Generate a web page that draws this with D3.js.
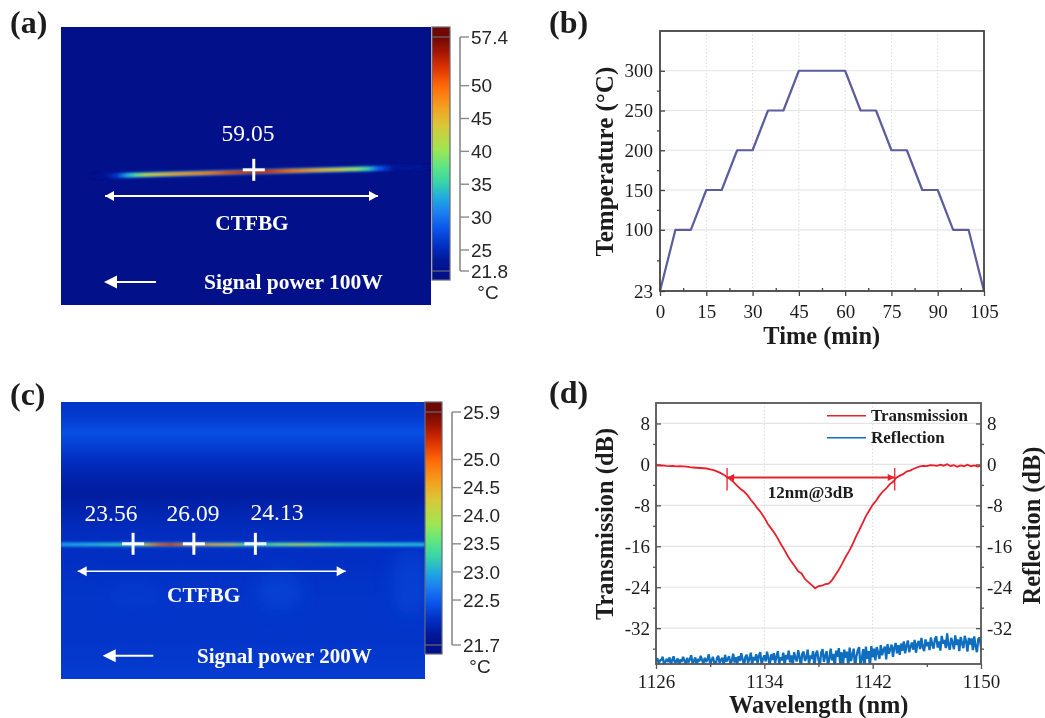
<!DOCTYPE html>
<html>
<head>
<meta charset="utf-8">
<title>CTFBG thermal and spectral results</title>
<script src="https://cdn.jsdelivr.net/npm/d3@7/dist/d3.min.js"></script>
<style>
  html, body { margin: 0; padding: 0; background: #fff; }
  svg { display: block; filter: blur(0.35px); }
  text { font-family: "Liberation Serif", serif; fill: #1c1c1c; }
  .bold { font-weight: bold; }
  .sans { font-family: "Liberation Sans", sans-serif; fill: #262626; }
  .onimg { fill: #fff; }
  .axis path, .axis line { fill: none; }
</style>
</head>
<body>
<div id="chart"></div>
<script>
// ---- colour map shared by both thermal pictures (fraction of the bar -> colour)
var jetFractions = [0, 0.05, 0.11, 0.18, 0.25, 0.31, 0.38, 0.45, 0.52, 0.62, 0.70, 0.79, 0.87, 0.94, 1];
var jetColors = ["#02108a", "#001a9c", "#0230c4", "#0a55ea", "#1a80f0", "#20a8e0", "#38d5a8", "#62e680", "#a0e650", "#d8c838", "#f4a020", "#ff6a08", "#dc3200", "#a01400", "#6e0800"];

// ---- panel a, thermal picture at 100 W
var barTicksA = [21.8, 25, 30, 35, 40, 45, 50, 57.4];
var barLabelsA = ["21.8", "25", "30", "35", "40", "45", "50", "57.4"];
var fibreAPos = [8, 12, 15, 18, 20, 23, 30, 40, 46, 52, 56, 62, 70, 76, 80, 83, 86, 90, 100];
var fibreATemp = [21.8, 22.6, 26, 33, 37, 42, 46, 49, 52, 53.5, 53, 50, 46, 43, 40, 35, 28, 23, 21.9];
var readingA = "59.05";
var crossAPos = [52.1];

// ---- panel b, heating schedule
var timeMin = [0, 5, 10, 15, 20, 25, 30, 35, 40, 45, 60, 65, 70, 75, 80, 85, 90, 95, 100, 105];
var tempC = [23, 100, 100, 150, 150, 200, 200, 250, 250, 300, 300, 250, 250, 200, 200, 150, 150, 100, 100, 23];
var timeTicks = [0, 15, 30, 45, 60, 75, 90, 105];
var timeMinor = [7.5, 22.5, 37.5, 52.5, 67.5, 82.5, 97.5];
var tempTicks = [23, 100, 150, 200, 250, 300];
var tempMinor = [61.5, 125, 175, 225, 275];

// ---- panel c, thermal picture at 200 W
var barTicksC = [21.7, 22.5, 23, 23.5, 24, 24.5, 25, 25.9];
var barLabelsC = ["21.7", "22.5", "23.0", "23.5", "24.0", "24.5", "25.0", "25.9"];
var rowPos = [0, 5, 11, 16, 21, 28, 33, 39, 46, 52, 60, 71, 86, 100];
var rowTemp = [22.2, 22.24, 22.4, 22.27, 22.14, 22.0, 21.93, 22.02, 22.12, 22.14, 22.16, 22.2, 22.2, 22.26];
var spotX = [60, 96, 20];
var spotY = [68, 65, 69];
var spotRx = [6, 5, 7];
var spotRy = [7, 12, 5];
var spotOpacity = [0.34, 0.34, 0.14];
var fibreCPos = [0, 10, 19, 23, 27, 30, 35, 41, 47, 50, 55, 60, 66, 70, 78, 100];
var fibreCTemp = [22.9, 23.1, 23.3, 24.2, 25.1, 25.3, 24.8, 24.5, 24.3, 23.6, 23.4, 23.7, 24.0, 23.7, 23.3, 23.1];
var readingsC = ["23.56", "26.09", "24.13"];
var crossCPos = [19.8, 36.5, 53.4];

// ---- panel d, spectra
var waveTicks = [1126, 1134, 1142, 1150];
var waveMinor = [1130, 1138, 1146];
var dbTicks = [8, 0, -8, -16, -24, -32];
var dbLabels = ["8", "0", "-8", "-16", "-24", "-32"];
var dbMinor = [4, -4, -12, -20, -28, -36];
// sampled every 0.25 nm from 1126 nm
var transmission = [
  -0.2, -0.25, -0.2, -0.3, -0.35, -0.3, -0.4, -0.35, -0.4, -0.45, -0.55, -0.6,
  -0.65, -0.7, -0.75, -0.8, -0.95, -1.1, -1.35, -1.65, -2.0, -2.5, -2.9, -3.5,
  -4.2, -4.8, -5.3, -6.0, -6.9, -7.7, -8.6, -9.4, -10.4, -11.6, -12.5, -13.4,
  -14.5, -15.7, -16.8, -18.0, -19.0, -19.9, -20.9, -21.3, -22.4, -23.0, -23.6, -24.2,
  -23.8, -23.7, -23.4, -23.3, -22.6, -21.6, -20.6, -19.4, -18.1, -17.0, -15.7, -14.2,
  -12.9, -11.5, -10.1, -9.0, -7.9, -7.1, -6.1, -5.3, -4.7, -3.9, -3.4, -2.6,
  -2.2, -1.9, -1.4, -1.2, -0.9, -0.6, -0.4, -0.3, -0.35, -0.15, -0.2, -0.3,
  -0.05, -0.25, 0.05, -0.3, -0.15, -0.45, -0.2, -0.35, -0.05, -0.35, -0.2, -0.4, -0.3
];
// sampled every 0.1 nm from 1126 nm
var reflection = [
  -38.4, -37.9, -38.9, -38.3, -38.2, -37.6, -39.3, -38.5, -38.0, -38.6, -37.7, -39.1, -38.2, -37.5, -38.8, -38.5, -37.9, -39.4, -38.1, -38.6,
  -37.6, -38.3, -39.2, -37.8, -38.7, -38.1, -37.3, -38.9, -38.4, -37.7, -39.5, -38.0, -38.5, -37.4, -38.2, -39.0, -37.8, -38.6, -38.1, -37.1,
  -39.1, -38.3, -37.6, -38.7, -39.3, -37.9, -37.4, -38.8, -38.2, -37.8, -39.4, -37.2, -38.5, -38.0, -37.5, -39.2, -38.3, -37.0, -38.7, -37.7,
  -39.0, -37.5, -38.4, -36.9, -38.1, -39.4, -37.6, -37.2, -38.8, -38.0, -36.8, -39.2, -37.6, -38.3, -37.1, -38.9, -37.4, -36.7, -39.1, -38.0,
  -37.3, -38.5, -36.6, -37.9, -39.3, -37.1, -38.2, -36.9, -38.8, -37.5, -36.5, -39.0, -37.7, -38.3, -36.8, -39.4, -37.2, -38.1, -36.4, -38.7,
  -37.3, -39.2, -36.7, -37.9, -38.5, -36.3, -37.6, -39.5, -37.0, -36.6, -38.4, -37.8, -36.2, -39.1, -37.3, -38.0, -36.5, -39.6, -37.1, -36.4,
  -38.2, -39.3, -36.8, -36.1, -38.6, -37.4, -36.5, -39.5, -37.9, -36.0, -38.3, -37.0, -39.7, -36.4, -37.6, -35.9, -38.9, -36.7, -39.8, -36.2,
  -37.8, -36.6, -39.6, -35.8, -38.4, -37.2, -36.0, -39.9, -37.5, -36.3, -35.7, -39.5, -37.9, -36.1, -39.8, -35.6, -38.0, -36.5, -39.7, -35.5,
  -37.7, -36.0, -38.3, -35.7, -36.8, -38.0, -35.3, -37.3, -36.2, -35.6, -38.1, -35.1, -37.0, -36.1, -35.2, -37.6, -35.8, -34.9, -36.9, -35.3,
  -37.2, -35.0, -36.4, -34.6, -36.9, -35.4, -34.4, -36.7, -35.6, -34.8, -36.2, -34.3, -36.8, -35.1, -34.5, -36.1, -33.9, -35.7, -36.5, -34.2,
  -35.5, -34.7, -36.3, -33.8, -35.2, -36.0, -34.1, -33.6, -35.8, -34.6, -36.4, -33.5, -35.0, -34.3, -35.9, -33.0, -35.4, -36.2, -33.9, -34.8,
  -36.1, -33.4, -35.3, -34.2, -36.5, -33.7, -35.0, -35.9, -33.5, -34.6, -36.6, -33.9, -35.2, -34.0, -36.3, -33.6, -35.6, -36.7, -34.1, -33.8,
  -35.7, -36.8, -34.2, -35.0, -33.9, -36.4, -34.7, -37.1, -34.0, -35.5, -36.2, -34.3, -37.4, -34.6, -35.2, -36.6, -34.1, -37.8, -34.5, -35.6, -36.4
];
var bandwidthEdges = [1131.25, 1143.63];
var bandwidthLevel = -2.55;
var bandwidthSpan = [-0.7, -5.1];

var width = 1045, height = 718;

var svg = d3.select("#chart").append("svg")
    .attr("width", width)
    .attr("height", height);
var defs = svg.append("defs");

var blurs = [0.9, 1.6, 9];
blurs.forEach(function(b, i) {
    defs.append("filter")
        .attr("id", "blur" + i)
        .attr("filterUnits", "userSpaceOnUse")
        .attr("x", 0).attr("y", 0)
        .attr("width", width).attr("height", height)
        .append("feGaussianBlur")
        .attr("stdDeviation", b);
});

var jet = d3.scaleLinear().domain(jetFractions).range(jetColors).clamp(true);

// linear gradient between two picture points, coloured from a temperature profile
function fibreGradient(id, x1, y1, x2, y2, offsets, temps, toColor) {
    defs.append("linearGradient")
        .attr("id", id)
        .attr("gradientUnits", "userSpaceOnUse")
        .attr("x1", x1).attr("y1", y1)
        .attr("x2", x2).attr("y2", y2)
        .selectAll("stop")
        .data(temps)
        .enter().append("stop")
        .attr("offset", function(d, i) { return offsets[i]; })
        .attr("stop-color", function(d) { return toColor(d); });
}

// colour bar with its own axis on the right
function colorBar(bar, ticks, labels, tempScale, unitX, unitY) {
    var barId = "bar" + bar.x;
    defs.append("linearGradient")
        .attr("id", barId)
        .attr("x1", 0).attr("y1", 1).attr("x2", 0).attr("y2", 0)
        .selectAll("stop")
        .data(jetFractions)
        .enter().append("stop")
        .attr("offset", function(d) { return d; })
        .attr("stop-color", function(d, i) { return jetColors[i]; });

    svg.append("rect")
        .attr("x", bar.x).attr("y", bar.top)
        .attr("width", bar.w).attr("height", bar.bottom - bar.top)
        .attr("fill", jetColors[jetColors.length - 1]);
    svg.append("rect")
        .attr("x", bar.x).attr("y", bar.lo)
        .attr("width", bar.w).attr("height", bar.bottom - bar.lo)
        .attr("fill", jetColors[0]);
    svg.append("rect")
        .attr("x", bar.x).attr("y", bar.hi)
        .attr("width", bar.w).attr("height", bar.lo - bar.hi)
        .attr("fill", "url(#" + barId + ")");
    svg.append("rect")
        .attr("x", bar.x).attr("y", bar.top)
        .attr("width", bar.w).attr("height", bar.bottom - bar.top)
        .attr("fill", "none").attr("stroke", "#6a6a78").attr("stroke-width", 1.2);
    [bar.hi, bar.lo].forEach(function(y) {
        svg.append("line")
            .attr("x1", bar.x).attr("x2", bar.x + bar.w)
            .attr("y1", y).attr("y2", y)
            .attr("stroke", "#6a6a78").attr("stroke-width", 1.2);
    });

    var g = svg.append("g").attr("transform", "translate(" + (bar.axisX + 9) + ",0)");
    g.call(d3.axisRight(tempScale).tickValues(ticks).tickSize(0).tickPadding(2)
        .tickFormat(function(d, i) { return labels[i]; }));
    g.select(".domain").remove();
    g.selectAll("text").attr("class", "sans").attr("font-size", 19).attr("font-family", null);
    svg.append("line")
        .attr("x1", bar.axisX).attr("x2", bar.axisX)
        .attr("y1", tempScale(ticks[0])).attr("y2", tempScale(ticks[ticks.length - 1]))
        .attr("stroke", "#8a8a8a").attr("stroke-width", 1.6);
    svg.selectAll(null)
        .data(ticks)
        .enter().append("line")
        .attr("x1", bar.axisX).attr("x2", bar.axisX + 9)
        .attr("y1", function(d) { return tempScale(d); })
        .attr("y2", function(d) { return tempScale(d); })
        .attr("stroke", "#8a8a8a").attr("stroke-width", 1.4);
    svg.append("text").attr("class", "sans")
        .attr("x", unitX).attr("y", unitY)
        .attr("text-anchor", "middle").attr("font-size", 19)
        .text("\u00b0C");
}

// white annotations on the thermal pictures
function cross(x, y) {
    var g = svg.append("g").attr("stroke", "#fff").attr("stroke-width", 3);
    g.append("line").attr("x1", x - 11).attr("x2", x + 11).attr("y1", y).attr("y2", y);
    g.append("line").attr("x1", x).attr("x2", x).attr("y1", y - 11).attr("y2", y + 11);
}
function arrowHead(tipX, y, dir, len, half) {
    svg.append("path")
        .attr("d", d3.line()([[tipX, y], [tipX + dir * len, y - half], [tipX + dir * len, y + half]]) + "Z")
        .attr("fill", "#fff");
}
function doubleArrow(x1, x2, y, sw) {
    svg.append("line").attr("x1", x1).attr("x2", x2).attr("y1", y).attr("y2", y)
        .attr("stroke", "#fff").attr("stroke-width", sw);
    arrowHead(x1, y, 1, 9, 5);
    arrowHead(x2, y, -1, 9, 5);
}
function powerArrow(tip, tail, y) {
    svg.append("line").attr("x1", tip + 8).attr("x2", tail).attr("y1", y).attr("y2", y)
        .attr("stroke", "#fff").attr("stroke-width", 2);
    arrowHead(tip, y, 1, 13, 6.5);
}
function imgText(t, x, y, size, bold, anchor) {
    svg.append("text")
        .attr("class", "onimg" + (bold ? " bold" : ""))
        .attr("x", x).attr("y", y)
        .attr("font-size", size)
        .attr("text-anchor", anchor || "middle")
        .text(t);
}

function panelLabel(t, x, y) {
    svg.append("text").attr("class", "bold")
        .attr("x", x).attr("y", y)
        .attr("font-size", 32).attr("fill", "#111")
        .text(t);
}
panelLabel("(a)", 10, 33);
panelLabel("(b)", 549, 33);
panelLabel("(c)", 10, 405);
panelLabel("(d)", 549, 403);

/* ---------- panel a ---------- */
var aX = d3.scaleLinear().domain([0, 100]).range([61, 431]);
var aY = d3.scaleLinear().domain([0, 100]).range([27, 305]);
var tempA = d3.scaleLinear().domain([21.8, 57.4]).range([271, 37]);
var colorA = function(t) { return jet((t - 21.8) / (57.4 - 21.8)); };

defs.append("clipPath").attr("id", "clipA").append("rect")
    .attr("x", aX(0)).attr("y", aY(0))
    .attr("width", aX(100) - aX(0)).attr("height", aY(100) - aY(0));

svg.append("rect")
    .attr("x", aX(0)).attr("y", aY(0))
    .attr("width", aX(100) - aX(0)).attr("height", aY(100) - aY(0))
    .attr("fill", jetColors[0]);

var fibreAx1 = aX(fibreAPos[0]), fibreAx2 = aX(100);
var fibreSlope = -7 / 260;
var fibreAy = function(x) { return 172 + (x - 247) * fibreSlope; };
var offsetsA = fibreAPos.map(function(p) { return (aX(p) - fibreAx1) / (fibreAx2 - fibreAx1); });
fibreGradient("fibreA", fibreAx1, fibreAy(fibreAx1), fibreAx2, fibreAy(fibreAx2), offsetsA, fibreATemp, colorA);
// halo is cooler than the core
fibreGradient("haloA", fibreAx1, fibreAy(fibreAx1), fibreAx2, fibreAy(fibreAx2), offsetsA,
    fibreATemp.map(function(t) { return Math.min(t, 31); }), colorA);

var gA = svg.append("g").attr("clip-path", "url(#clipA)");
gA.append("line")
    .attr("x1", fibreAx1).attr("y1", fibreAy(fibreAx1))
    .attr("x2", fibreAx2).attr("y2", fibreAy(fibreAx2))
    .attr("stroke", "url(#haloA)").attr("stroke-width", 4.5).attr("filter", "url(#blur1)");
gA.append("line")
    .attr("x1", fibreAx1).attr("y1", fibreAy(fibreAx1))
    .attr("x2", fibreAx2).attr("y2", fibreAy(fibreAx2))
    .attr("stroke", "url(#fibreA)").attr("stroke-width", 3.4).attr("filter", "url(#blur0)");

cross(aX(crossAPos[0]), fibreAy(aX(crossAPos[0])) - 2);
imgText(readingA, 248, 141, 23.5, false);
doubleArrow(105, 378, 196, 2);
imgText("CTFBG", 252, 230, 21.3, true);
powerArrow(104, 156, 282);
imgText("Signal power 100W", 204, 289, 21.5, true, "start");

colorBar({x: 432, w: 18, top: 27, bottom: 280, hi: 37, lo: 271, axisX: 460},
    barTicksA, barLabelsA, tempA, 488, 299);

/* ---------- panel c ---------- */
var cX = d3.scaleLinear().domain([0, 100]).range([61, 425]);
var cY = d3.scaleLinear().domain([0, 100]).range([402, 679]);
var tempC_ = d3.scaleLinear().domain([21.7, 25, 25.9]).range([645, 459.5, 412]);
var colorC = function(t) { return jet((t - 21.7) / (25.9 - 21.7)); };

defs.append("clipPath").attr("id", "clipC").append("rect")
    .attr("x", cX(0)).attr("y", cY(0))
    .attr("width", cX(100) - cX(0)).attr("height", cY(100) - cY(0));

fibreGradient("rowsC", 0, cY(0), 0, cY(100), rowPos.map(function(p) { return p / 100; }), rowTemp, colorC);
svg.append("rect")
    .attr("x", cX(0)).attr("y", cY(0))
    .attr("width", cX(100) - cX(0)).attr("height", cY(100) - cY(0))
    .attr("fill", "url(#rowsC)");

var gC = svg.append("g").attr("clip-path", "url(#clipC)");
gC.selectAll("ellipse")
    .data(spotX)
    .enter().append("ellipse")
    .attr("cx", function(d) { return cX(d); })
    .attr("cy", function(d, i) { return cY(spotY[i]); })
    .attr("rx", function(d, i) { return cX(spotRx[i]) - cX(0); })
    .attr("ry", function(d, i) { return cY(spotRy[i]) - cY(0); })
    .attr("fill", colorC(22.5))
    .attr("opacity", function(d, i) { return spotOpacity[i]; })
    .attr("filter", "url(#blur2)");

var fibreCy = 544.5;
fibreGradient("fibreC", cX(0), fibreCy, cX(100), fibreCy, fibreCPos.map(function(p) { return p / 100; }), fibreCTemp, colorC);
gC.append("line")
    .attr("x1", cX(0)).attr("x2", cX(100)).attr("y1", fibreCy).attr("y2", fibreCy)
    .attr("stroke", colorC(22.7)).attr("stroke-width", 4).attr("filter", "url(#blur1)");
gC.append("line")
    .attr("x1", cX(0)).attr("x2", cX(100)).attr("y1", fibreCy).attr("y2", fibreCy)
    .attr("stroke", "url(#fibreC)").attr("stroke-width", 2.6).attr("filter", "url(#blur0)");

crossCPos.forEach(function(p) { cross(cX(p), fibreCy - 0.7); });
imgText(readingsC[0], 111, 521, 23.5, false);
imgText(readingsC[1], 193, 521, 23.5, false);
imgText(readingsC[2], 277, 520, 23.5, false);
doubleArrow(77.7, 345.7, 571.3, 1.6);
imgText("CTFBG", 203.7, 601.7, 21.3, true);
powerArrow(102.7, 153.3, 655.7);
imgText("Signal power 200W", 197, 662.7, 21, true, "start");

colorBar({x: 425, w: 17, top: 402, bottom: 654, hi: 412, lo: 645, axisX: 452},
    barTicksC, barLabelsC, tempC_, 480, 672.7);

/* ---------- shared helpers for the two line plots ---------- */
function styleAxis(g, color, size) {
    g.attr("class", "axis");
    g.select(".domain").remove();
    g.selectAll("line").attr("stroke", color).attr("stroke-width", 1.3);
    g.selectAll("text").attr("font-size", size).attr("font-family", null).attr("fill", "#1c1c1c");
}
function grid(g, box, xVals, yVals, x, y) {
    g.selectAll(null).data(yVals).enter().append("line")
        .attr("x1", box.left).attr("x2", box.right)
        .attr("y1", function(d) { return y(d); }).attr("y2", function(d) { return y(d); })
        .attr("stroke", "#e4e4e4").attr("stroke-width", 1.2);
    g.selectAll(null).data(xVals).enter().append("line")
        .attr("x1", function(d) { return x(d); }).attr("x2", function(d) { return x(d); })
        .attr("y1", box.top).attr("y2", box.bottom)
        .attr("stroke", "#dcdcdc").attr("stroke-width", 1)
        .attr("stroke-dasharray", "1.5,2");
}
function axisTitle(t, x, y, size, rotate) {
    svg.append("text").attr("class", "bold")
        .attr("transform", "translate(" + x + "," + y + ")" + (rotate ? " rotate(-90)" : ""))
        .attr("text-anchor", "middle")
        .attr("font-size", size)
        .attr("fill", "#111")
        .text(t);
}
function frame(box, color) {
    svg.append("rect")
        .attr("x", box.left).attr("y", box.top)
        .attr("width", box.right - box.left).attr("height", box.bottom - box.top)
        .attr("fill", "none").attr("stroke", color).attr("stroke-width", 1.8);
}

/* ---------- panel b ---------- */
var boxB = {left: 660, right: 984, top: 31, bottom: 291};
var xB = d3.scaleLinear().domain([0, 105]).range([boxB.left, boxB.right]);
var yB = d3.scaleLinear().domain([23, 350]).range([boxB.bottom, boxB.top]);

grid(svg.append("g"), boxB, timeTicks.slice(1, -1), tempTicks.slice(1), xB, yB);

var axB = svg.append("g").attr("transform", "translate(0," + boxB.bottom + ")")
    .call(d3.axisBottom(xB).tickValues(timeTicks).tickSize(5).tickPadding(9).tickFormat(d3.format("d")));
styleAxis(axB, "#444", 19);
var axBm = svg.append("g").attr("transform", "translate(0," + boxB.bottom + ")")
    .call(d3.axisBottom(xB).tickValues(timeMinor).tickSize(-3).tickFormat(""));
styleAxis(axBm, "#444", 19);
var ayB = svg.append("g").attr("transform", "translate(" + boxB.left + ",0)")
    .call(d3.axisLeft(yB).tickValues(tempTicks).tickSize(-5).tickPadding(7).tickFormat(d3.format("d")));
styleAxis(ayB, "#444", 19);
var ayBm = svg.append("g").attr("transform", "translate(" + boxB.left + ",0)")
    .call(d3.axisLeft(yB).tickValues(tempMinor).tickSize(3).tickFormat(""));
styleAxis(ayBm, "#444", 19);

svg.append("path")
    .datum(timeMin)
    .attr("fill", "none")
    .attr("stroke", "#5c5c9e")
    .attr("stroke-width", 2.2)
    .attr("stroke-linejoin", "round")
    .attr("d", d3.line()
        .x(function(d) { return xB(d); })
        .y(function(d, i) { return yB(tempC[i]); }));
frame(boxB, "#444");

axisTitle("Time (min)", 821.7, 344, 24.4, false);
axisTitle("Temperature (\u00b0C)", 613, 161.7, 25, true);

/* ---------- panel d ---------- */
var boxD = {left: 656, right: 981, top: 403, bottom: 664};
var xD = d3.scaleLinear().domain([1126, 1150]).range([boxD.left, boxD.right]);
var yD = d3.scaleLinear().domain([-39, 12]).range([boxD.bottom, boxD.top]);

defs.append("clipPath").attr("id", "clipD").append("rect")
    .attr("x", boxD.left).attr("y", boxD.top)
    .attr("width", boxD.right - boxD.left).attr("height", boxD.bottom - boxD.top);

grid(svg.append("g"), boxD, waveTicks.slice(1, -1), dbTicks, xD, yD);

var dbFormat = function(d) { return dbLabels[dbTicks.indexOf(d)]; };
var axD = svg.append("g").attr("transform", "translate(0," + boxD.bottom + ")")
    .call(d3.axisBottom(xD).tickValues(waveTicks).tickSize(5).tickPadding(6).tickFormat(d3.format("d")));
styleAxis(axD, "#555", 19);
var axDm = svg.append("g").attr("transform", "translate(0," + boxD.bottom + ")")
    .call(d3.axisBottom(xD).tickValues(waveMinor).tickSize(3).tickFormat(""));
styleAxis(axDm, "#555", 19);
[[boxD.left, d3.axisLeft, -5, 3, 6], [boxD.right, d3.axisRight, -5, 3, 6]].forEach(function(a) {
    var major = svg.append("g").attr("transform", "translate(" + a[0] + ",0)")
        .call(a[1](yD).tickValues(dbTicks).tickSize(a[2]).tickPadding(a[4]).tickFormat(dbFormat));
    styleAxis(major, "#555", 19);
    var minor = svg.append("g").attr("transform", "translate(" + a[0] + ",0)")
        .call(a[1](yD).tickValues(dbMinor).tickSize(a[3]).tickFormat(""));
    styleAxis(minor, "#555", 19);
});

var gD = svg.append("g").attr("clip-path", "url(#clipD)");
gD.append("path")
    .datum(reflection)
    .attr("fill", "none")
    .attr("stroke", "#0f6fbe")
    .attr("stroke-width", 2.3)
    .attr("stroke-linejoin", "bevel")
    .attr("d", d3.line()
        .x(function(d, i) { return xD(1126 + i * 0.1); })
        .y(function(d) { return yD(d); }));
gD.append("path")
    .datum(transmission)
    .attr("fill", "none")
    .attr("stroke", "#e8202c")
    .attr("stroke-width", 1.8)
    .attr("d", d3.line()
        .x(function(d, i) { return xD(1126 + i * 0.25); })
        .y(function(d) { return yD(d); }));

// 3 dB bandwidth marker
var redMark = svg.append("g").attr("stroke", "#e8202c").attr("fill", "#e8202c");
bandwidthEdges.forEach(function(w) {
    redMark.append("line")
        .attr("x1", xD(w)).attr("x2", xD(w))
        .attr("y1", yD(bandwidthSpan[0])).attr("y2", yD(bandwidthSpan[1]))
        .attr("stroke-width", 1.3);
});
redMark.append("line")
    .attr("x1", xD(bandwidthEdges[0])).attr("x2", xD(bandwidthEdges[1]))
    .attr("y1", yD(bandwidthLevel)).attr("y2", yD(bandwidthLevel))
    .attr("stroke-width", 2);
[[bandwidthEdges[0], 1], [bandwidthEdges[1], -1]].forEach(function(e) {
    var tip = xD(e[0]), y0 = yD(bandwidthLevel);
    redMark.append("path")
        .attr("d", d3.line()([[tip, y0], [tip + e[1] * 7, y0 - 3.5], [tip + e[1] * 7, y0 + 3.5]]) + "Z")
        .attr("stroke", "none");
});
svg.append("text").attr("class", "bold")
    .attr("x", 540 + 812 / 3).attr("y", 498)
    .attr("text-anchor", "middle").attr("font-size", 17)
    .text("12nm@3dB");

frame(boxD, "#555");

// legend
var legendNames = ["Transmission", "Reflection"];
var legendColors = ["#e8202c", "#0f6fbe"];
var legendY = [415.7, 437.7];
legendNames.forEach(function(n, i) {
    svg.append("line")
        .attr("x1", 827).attr("x2", 866)
        .attr("y1", legendY[i]).attr("y2", legendY[i])
        .attr("stroke", legendColors[i]).attr("stroke-width", 1.5);
    svg.append("text").attr("class", "bold")
        .attr("x", 871).attr("y", legendY[i] + 5)
        .attr("font-size", 17)
        .text(n);
});

axisTitle("Wavelength (nm)", 818.7, 713, 24.4, false);
axisTitle("Transmission (dB)", 613, 524, 24.5, true);
axisTitle("Reflection (dB)", 1040, 525.5, 24.4, true);
</script>
</body>
</html>
